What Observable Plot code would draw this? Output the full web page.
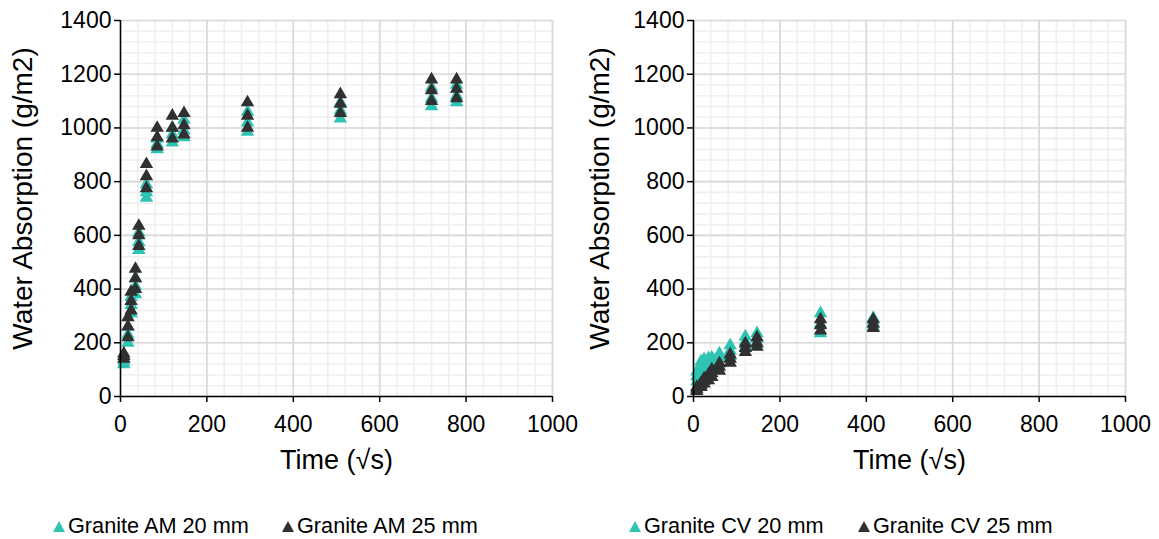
<!DOCTYPE html>
<html><head><meta charset="utf-8">
<script src="https://cdn.jsdelivr.net/npm/d3@7"></script>
<script src="https://cdn.jsdelivr.net/npm/@observablehq/plot@0.6"></script>
<style>
body{margin:0;background:#fff;font-family:"Liberation Sans",Arial,sans-serif;}
#wrap{position:relative;width:1159px;height:539px;overflow:hidden;background:#fff;}
.panel{position:absolute;top:0;}
.item{position:absolute;top:515px;height:22px;line-height:22px;font-size:21.7px;color:#000;white-space:nowrap;display:flex;align-items:center;}
.item svg{margin-right:3px;margin-top:1px;}
</style>
</head><body>
<div id="wrap">
  <div class="panel" id="left" style="left:0"></div>
  <div class="panel" id="right" style="left:580px"></div>
</div>
<script>
// ---- data ----
const seriesNames = ["Granite AM 20 mm", "Granite AM 25 mm", "Granite CV 20 mm", "Granite CV 25 mm"];
const seriesColors = ["#2ec4b4", "#303030"];
const xTicks = [0, 200, 400, 600, 800, 1000];
const yTicks = [0, 200, 400, 600, 800, 1000, 1200, 1400];
const minorStep = 40;
const xTitle = "Time (√s)";
const yTitle = "Water Absorption (g/m2)";

const timesAM = [7.7, 17.3, 24.5, 34.6, 42.4, 60, 84.9, 120, 147, 294, 509, 720, 778];
const am20 = [[120,130,140],[200,230,260],[310,340,370],[380,410,440],[545,575,610],[740,760,790],[920,940,960],[945,975,1000],[965,990,1030],[985,1020,1060],[1035,1065,1095],[1080,1110,1150],[1095,1120,1160]];
const am25 = [[140,150,160],[220,260,295],[320,355,390],[400,440,475],[560,600,635],[775,820,865],[930,965,1000],[960,1000,1045],[975,1010,1055],[1000,1045,1095],[1055,1090,1125],[1100,1140,1180],[1110,1145,1180]];

const timesCV = [7.7, 17.3, 24.5, 34.6, 42.4, 60, 84.9, 120, 147, 294, 416];
const cv20 = [[55,75,93],[85,110,130],[95,118,138],[100,122,142],[105,125,145],[125,142,160],[150,170,190],[185,205,223],[195,215,235],[235,270,310],[260,275,292]];
const cv25 = [[20,28,35],[35,42,50],[48,58,67],[60,72,82],[72,86,100],[95,110,123],[125,140,156],[165,180,197],[185,200,220],[245,265,287],[255,270,287]];

function flatten(times, vals){
  const out = [];
  times.forEach((t, i) => vals[i].forEach(v => out.push({t, v})));
  return out;
}

function chart(times, s20, s25, opts){
  const xMinor = d3.range(xTicks[0], xTicks[xTicks.length-1] + 1, minorStep);
  const yMinor = d3.range(yTicks[0], yTicks[yTicks.length-1] + 1, minorStep);
  return Plot.plot({
    width: opts.width, height: 480,
    marginLeft: opts.ml, marginRight: opts.mr, marginTop: 20, marginBottom: 84,
    style: {fontFamily: '"Liberation Sans", Arial, sans-serif', fontSize: "23px", color: "#000", background: "#fff", overflow: "visible"},
    x: {domain: [0, 1000]},
    y: {domain: [0, 1400]},
    marks: [
      Plot.gridX(xMinor, {stroke: "#efefef", strokeOpacity: 1, strokeWidth: 1.6}),
      Plot.gridY(yMinor, {stroke: "#efefef", strokeOpacity: 1, strokeWidth: 1.6}),
      Plot.gridX(xTicks, {stroke: "#d9d9d9", strokeOpacity: 1, strokeWidth: 1.6}),
      Plot.gridY(yTicks, {stroke: "#d9d9d9", strokeOpacity: 1, strokeWidth: 1.6}),
      Plot.dot(flatten(times, s20), {x: "t", y: "v", symbol: "triangle", r: 5, fill: seriesColors[0]}),
      Plot.dot(flatten(times, s25), {x: "t", y: "v", symbol: "triangle", r: 5, fill: seriesColors[1]}),
      Plot.ruleX([0], {stroke: "#000", strokeWidth: 1.5}),
      Plot.ruleY([0], {stroke: "#000", strokeWidth: 1.5}),
      Plot.axisX({ticks: xTicks, tickSize: 6, tickPadding: 13, tickFormat: d => String(d), label: null, stroke: "#000", strokeWidth: 1.5}),
      Plot.axisY({ticks: yTicks, tickSize: 6, tickPadding: 3, tickFormat: d => String(d), label: null, stroke: "#000", strokeWidth: 1.5}),
      Plot.text([xTitle], {frameAnchor: "bottom", dy: 64, lineAnchor: "middle", textAnchor: "middle", fontSize: 27, fill: "#000"}),
      Plot.text([yTitle], {frameAnchor: "left", rotate: -90, dx: opts.ytdx, dy: -10, lineAnchor: "middle", textAnchor: "middle", fontSize: 28, fill: "#000"})
    ]
  });
}

document.getElementById("left").appendChild(chart(timesAM, am20, am25, {width: 580, ml: 120, mr: 28, ytdx: -97}));
document.getElementById("right").appendChild(chart(timesCV, cv20, cv25, {width: 579, ml: 113, mr: 34, ytdx: -93}));

// legend
const legendPos = [[53, 0], [282, 1], [629, 0], [858, 1]];
const wrap = document.getElementById("wrap");
legendPos.forEach(([left, c], i) => {
  const d = document.createElement("div");
  d.className = "item";
  d.style.left = left + "px";
  d.innerHTML = `<svg width="12" height="11" viewBox="0 0 12 11"><polygon points="6,0 12,11 0,11" fill="${seriesColors[c]}"/></svg><span>${seriesNames[i]}</span>`;
  wrap.appendChild(d);
});
</script>
</body></html>
